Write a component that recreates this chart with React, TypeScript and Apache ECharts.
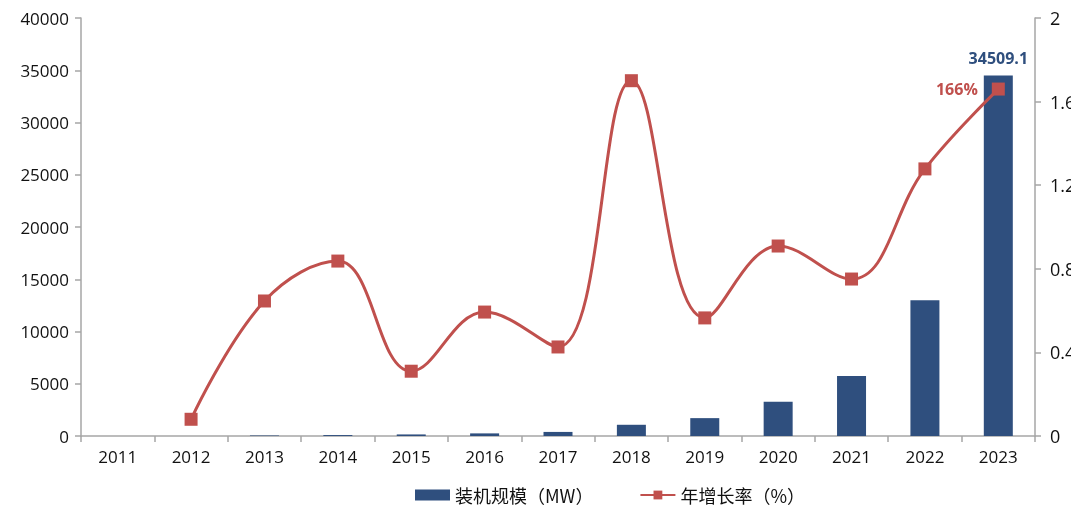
import React, { useEffect, useRef } from "react";
import * as echarts from "echarts";

const years = ["2011", "2012", "2013", "2014", "2015", "2016", "2017", "2018", "2019", "2020", "2021", "2022", "2023"];
const capacity = [0, 0, 50, 90, 150, 250, 390, 1074, 1710, 3269, 5730, 13000, 34509.1];
const growth = [null, 0.08, 0.646, 0.837, 0.31, 0.593, 0.426, 1.7, 0.565, 0.909, 0.751, 1.278, 1.66];
const leftTicks = { min: 0, max: 40000, interval: 5000 };
const rightTicks = { min: 0, max: 2, interval: 0.4 };

const BAR = "#2F4F7E";
const LINE = "#C0504D";
const FONT = "'Open Sans', 'Noto Sans CJK SC', sans-serif";

export default function App() {
  const ref = useRef<HTMLDivElement>(null);
  useEffect(() => {
    const chart = echarts.init(ref.current!, null, { renderer: "svg" });
    const last = years.length - 1;
    chart.setOption({
      animation: false,
      textStyle: { fontFamily: FONT },
      grid: { left: 81, right: 36, top: 18, bottom: 75, containLabel: false, outerBoundsMode: "none" },
      legend: {
        bottom: 2,
        left: 410,
        itemGap: 46,
        itemWidth: 35,
        itemHeight: 11,
        textStyle: { fontSize: 18, color: "#111", fontFamily: "'Noto Sans CJK SC', sans-serif" },
        data: [
          { name: "装机规模（MW）", icon: "rect" },
          { name: "年增长率（%）" },
        ],
      },
      xAxis: {
        type: "category",
        data: years,
        boundaryGap: true,
        axisLine: { lineStyle: { color: "#A6A6A6", width: 1.5 } },
        axisTick: { show: true, length: 6, alignWithLabel: false, lineStyle: { color: "#A6A6A6", width: 1.5 } },
        axisLabel: { color: "#111", fontSize: 17, margin: 12 },
      },
      yAxis: [
        {
          type: "value",
          ...leftTicks,
          splitLine: { show: false },
          axisLine: { show: true, lineStyle: { color: "#A6A6A6", width: 1.5 } },
          axisTick: { show: true, length: 6, lineStyle: { color: "#A6A6A6", width: 1.5 } },
          axisLabel: { color: "#111", fontSize: 17, margin: 12, formatter: (v: number) => String(v) },
        },
        {
          type: "value",
          ...rightTicks,
          position: "right",
          splitLine: { show: false },
          axisLine: { show: true, lineStyle: { color: "#A6A6A6", width: 1.5 } },
          axisTick: { show: true, length: 6, lineStyle: { color: "#A6A6A6", width: 1.5 } },
          axisLabel: { color: "#111", fontSize: 18, margin: 15 },
        },
      ],
      series: [
        {
          name: "装机规模（MW）",
          type: "bar",
          yAxisIndex: 0,
          barWidth: 29,
          itemStyle: { color: BAR },
          data: capacity.map((v, i) =>
            i === last
              ? {
                  value: v,
                  label: {
                    show: true,
                    position: "top",
                    distance: 9,
                    formatter: "34509.1",
                    color: BAR,
                    fontWeight: "bold",
                    fontSize: 16,
                  },
                }
              : v
          ),
        },
        {
          name: "年增长率（%）",
          type: "line",
          yAxisIndex: 1,
          smooth: 0.4,
          symbol: "rect",
          symbolSize: 13,
          lineStyle: { color: LINE, width: 3 },
          itemStyle: { color: LINE },
          data: growth.map((v, i) =>
            i === last
              ? {
                  value: v,
                  label: {
                    show: true,
                    position: "left",
                    distance: 14,
                    formatter: "166%",
                    color: LINE,
                    fontWeight: "bold",
                    fontSize: 16,
                  },
                }
              : v
          ),
        },
      ],
    });
    return () => chart.dispose();
  }, []);
  return <div ref={ref} style={{ position: "fixed", left: 0, top: 0, width: 1071, height: 511 }} />;
}
